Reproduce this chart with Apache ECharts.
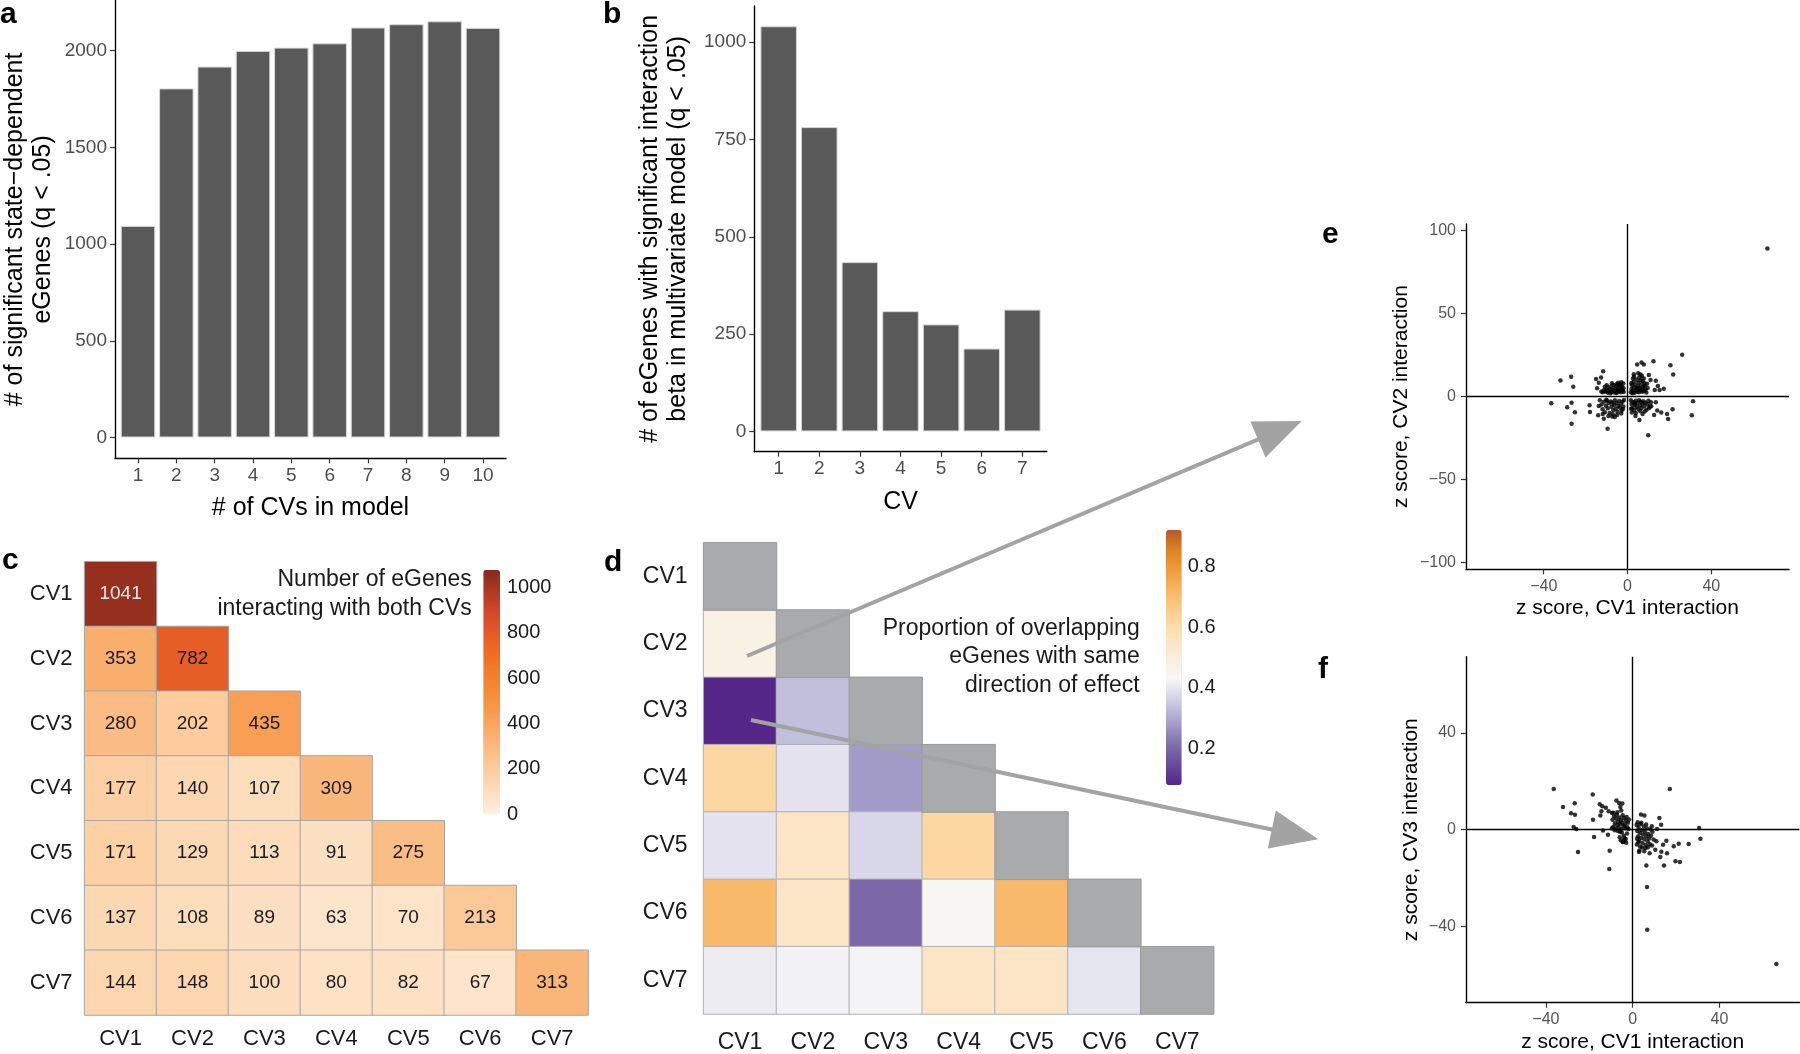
<!DOCTYPE html>
<html><head><meta charset="utf-8">
<script src="https://cdn.jsdelivr.net/npm/echarts@6/dist/echarts.min.js"></script>
<style>html,body{margin:0;padding:0;background:#fff}#chart{width:1800px;height:1054px}</style>
</head><body><div id="chart"></div>
<script>
// ---------------- data ----------------
const cvCountTicks = [1, 2, 3, 4, 5, 6, 7, 8, 9, 10];
const stateDepEgenes = [1094, 1805, 1918, 1999, 2016, 2038, 2120, 2137, 2152, 2118];
const countTicks = [0, 500, 1000, 1500, 2000];

const cvIndex = [1, 2, 3, 4, 5, 6, 7];
const interactionEgenes = [1041, 782, 435, 309, 275, 213, 313];
const interactionTicks = [0, 250, 500, 750, 1000];

const cvLabels = ['CV1', 'CV2', 'CV3', 'CV4', 'CV5', 'CV6', 'CV7'];
const overlapCounts = [
  [1041],
  [353, 782],
  [280, 202, 435],
  [177, 140, 107, 309],
  [171, 129, 113, 91, 275],
  [137, 108, 89, 63, 70, 213],
  [144, 148, 100, 80, 82, 67, 313]
];
const countLegendTicks = [0, 200, 400, 600, 800, 1000];

const sameDirection = [
  [],
  [0.48],
  [0.079, 0.335],
  [0.62, 0.395, 0.28],
  [0.395, 0.55, 0.375, 0.62],
  [0.71, 0.55, 0.20, 0.44, 0.71],
  [0.41, 0.42, 0.425, 0.55, 0.55, 0.40]
];
const propLegendTicks = [0.2, 0.4, 0.6, 0.8];

const zTicksX = [-40, 0, 40];
const zTicksCV2 = [-100, -50, 0, 50, 100];
const zTicksCV3 = [-40, 0, 40];

// z score CV1 interaction vs CV2 interaction
const zCV1vsCV2 = [
  [66.8,89.3],[26.1,25.3],[12.4,21.3],[4.6,19.3],[6.7,20.5],[7.8,19.3],[20.5,18.9],[21.8,13.3],[-11.6,15.3],
  [-32.0,9.8],[-26.9,12.0],[-25.9,6.0],[-15.0,10.6],[-12.6,11.6],[-13.7,8.4],[-14.5,5.0],[10.2,13.1],[11.0,10.0],
  [13.5,9.6],[14.5,6.4],[17.3,4.8],[15.3,4.0],[13.0,4.0],[3.0,13.5],[5.1,14.1],[6.2,13.3],[-36.4,-4.0],
  [-28.8,-6.4],[-26.7,-3.6],[-25.1,-9.4],[-26.7,-16.3],[-18.1,-5.2],[-17.9,-9.2],[-13.7,-5.6],[-14.0,-11.2],
  [-11.3,-13.3],[-9.5,-19.3],[-7.3,-12.0],[9.9,-23.3],[13.5,-3.4],[14.2,-8.4],[16.1,-9.6],[18.9,-10.4],
  [19.4,-13.5],[21.5,-7.6],[12.7,-11.0],[30.7,-11.2],[31.3,-2.8],[3.8,-11.6],[5.7,-14.1],[7.2,-10.4],
  [10.2,-7.0],[11.3,-5.8],
  [-12.5,3.1],[-11.8,2.6],[-11.2,4.0],[-10.6,2.9],[-10.1,3.6],[-9.7,5.2],[-9.3,2.4],[-8.8,3.3],[-8.4,4.6],
  [-8.0,6.1],[-7.7,2.8],[-7.3,3.9],[-6.9,5.4],[-6.6,7.0],[-6.2,2.5],[-5.9,3.6],[-5.6,4.8],[-5.3,6.3],
  [-5.0,7.6],[-4.7,2.9],[-4.4,4.1],[-4.1,5.5],[-3.8,3.2],[-3.5,6.8],[-3.2,2.6],[-2.9,4.4],[-2.6,5.9],
  [-2.3,3.5],[-2.0,7.9],[-1.8,2.8],[-4.5,8.3],[-6.9,3.1],[-9.9,6.8],[-7.4,8.0],[-3.0,8.6],[-5.2,2.2],
  [-1.9,5.1],[-8.1,2.1],[-10.8,5.9],[-3.9,7.4],
  [1.6,2.7],[1.9,4.6],[2.2,6.8],[2.5,3.4],[2.8,8.9],[3.1,5.5],[3.4,2.3],[3.7,7.3],[4.0,4.1],[4.3,10.2],
  [4.6,3.0],[4.9,6.1],[5.2,8.4],[5.5,2.6],[5.8,5.0],[6.1,3.8],[6.4,7.0],[6.7,4.5],[7.0,2.9],[7.3,9.3],
  [7.6,5.8],[7.9,3.4],[8.2,6.6],[8.6,4.3],[9.0,2.5],[9.3,7.8],[3.2,12.0],[2.6,10.9],[5.6,11.5],[6.9,12.4],
  [8.0,8.1],[9.6,5.2],[1.8,8.0],[4.4,5.2],[6.2,9.9],[2.4,2.1],[7.8,11.0],
  [-13.2,-2.2],[-12.4,-4.8],[-11.9,-7.6],[-11.3,-3.1],[-10.8,-9.4],[-10.3,-5.5],[-9.8,-2.4],[-9.4,-7.0],
  [-8.9,-4.0],[-8.5,-9.8],[-8.0,-2.9],[-7.6,-6.1],[-7.2,-3.6],[-6.8,-8.2],[-6.4,-5.0],[-6.0,-2.2],
  [-5.6,-7.3],[-5.2,-3.9],[-4.8,-9.1],[-4.4,-5.6],[-4.0,-2.6],[-3.6,-6.7],[-3.2,-4.3],[-2.8,-8.5],
  [-2.4,-3.1],[-2.0,-5.9],[-1.7,-2.0],[-5.0,-11.0],[-3.0,-10.2],[-7.0,-10.6],[-9.1,-11.6],[-11.8,-10.4],
  [-6.1,-12.3],[-2.2,-7.4],[-10.1,-1.8],
  [1.6,-2.1],[1.9,-4.5],[2.3,-6.8],[2.7,-3.2],[3.1,-8.1],[3.5,-5.1],[3.9,-2.5],[4.3,-6.2],[4.7,-3.8],
  [5.1,-7.5],[5.5,-2.2],[5.9,-5.4],[6.3,-3.1],[6.7,-6.9],[7.1,-4.2],[7.5,-2.7],[8.0,-5.8],[8.5,-3.5],
  [9.0,-7.9],[9.5,-4.6],[10.0,-2.4],[10.6,-6.0],[2.1,-9.6],[4.0,-9.9],[1.7,-7.3],[6.1,-8.8],[3.3,-4.0],
  [8.2,-8.9],[11.2,-3.3]
];

// z score CV1 interaction vs CV3 interaction
const zCV1vsCV3 = [
  [66.2,-55.6],[6.7,-41.4],[6.6,-23.7],[-36.4,16.8],[-18.4,14.6],[17.1,16.8],[-32.1,9.4],[-26.7,10.9],
  [-28.4,6.8],[-26.6,6.2],[-27.2,1.1],[-26.0,0.3],[-15.2,10.5],[-14.0,9.7],[-14.4,7.6],[-12.4,9.1],
  [-14.9,5.9],[-18.3,4.1],[-7.5,12.1],[-6.3,11.0],[-4.8,10.8],[-5.7,9.4],[-11.1,7.6],[-9.5,6.9],
  [-17.8,-3.0],[-25.2,-9.2],[-10.6,-8.7],[-10.8,-16.3],[-11.4,-2.1],[-13.7,-0.3],[-5.5,-4.4],[-4.5,-5.0],
  [-3.8,-3.4],[6.3,-14.8],[14.4,-14.8],[3.8,6.3],[5.4,5.9],[12.3,4.8],[13.1,2.1],[11.2,0.3],[30.6,0.7],
  [31.2,-3.7],[25.8,-5.9],[21.2,-5.8],[18.9,-6.9],[15.5,-4.6],[14.0,-6.2],[13.2,-9.1],[15.8,-9.7],
  [12.7,-11.3],[19.7,-13.1],[21.7,-13.4],[2.9,-9.2],[7.8,-9.7],[10.4,-8.3],[8.9,-6.5],[10.9,-4.8],
  [-9.3,4.1],[-8.9,1.2],[-8.6,5.6],[-8.2,2.7],[-7.9,0.4],[-7.6,4.5],[-7.3,6.2],[-7.0,1.8],[-6.7,3.3],
  [-6.4,0.8],[-6.1,5.1],[-5.8,2.4],[-5.5,4.0],[-5.2,0.2],[-4.9,3.0],[-4.6,6.0],[-4.3,1.5],[-4.0,4.7],
  [-3.7,2.1],[-3.4,0.6],[-3.1,3.6],[-2.8,5.3],[-2.5,1.0],[-2.2,2.9],[-1.9,0.3],[-5.0,-1.2],[-4.1,-2.5],
  [-3.2,-3.8],[-5.9,-0.8],[-2.6,-1.6],[-4.6,-5.1],[-3.9,-4.4],[-6.8,-0.5],[-8.3,-0.2],[-9.6,0.6],
  [-3.0,-5.4],[-7.1,7.2],[-5.3,7.9],[-9.0,7.0],[-6.0,-3.1],[-1.7,4.2],
  [1.8,1.9],[2.1,-0.5],[2.4,-2.8],[2.7,0.9],[3.0,-4.6],[3.3,-1.4],[3.6,2.4],[3.9,-3.3],[4.2,-0.2],
  [4.5,-5.5],[4.8,-2.0],[5.1,1.3],[5.4,-4.0],[5.7,-1.0],[6.0,-6.3],[6.3,-2.7],[6.6,0.5],[6.9,-4.9],
  [7.2,-1.8],[7.5,-3.6],[1.9,-6.1],[2.6,-5.2],[3.4,-7.0],[4.4,-7.4],[5.9,-7.6],[7.9,-6.0],[8.4,-2.5],
  [9.1,-0.9],[9.6,-4.1],[8.8,1.4],[4.0,2.9],[2.3,3.1],[6.2,2.2],[3.1,-8.6],[5.3,-8.9],[7.0,-7.3],
  [2.0,-3.7],[8.2,0.2]
];

// ---------------- chart ----------------
const FONT = "'Liberation Sans', Arial, Helvetica, sans-serif";
const countPalette = ['#fdf0e2', '#fcd0a3', '#f9ad6b', '#f68b38', '#ef6b22', '#d4462a', '#862b1c'];
const propPalette = ['#542788', '#6a4c9c', '#8073ac', '#a9a2cd', '#d0cfe6', '#f7f7f7', '#faeedb',
                     '#fde2bd', '#fdd296', '#f8ba6a', '#efa03f', '#e08522', '#b35a2a'];

const plainNum = v => String(v).replace('-', '\u2212');
const axisLineStyle = { lineStyle: { color: '#000', width: 1.4 } };
const tickStyle = { length: 5, lineStyle: { color: '#333', width: 1.2 } };

function valueAxis(gridIndex, min, max, ticks, extra) {
  return Object.assign({
    type: 'value', gridIndex, min, max,
    axisLine: Object.assign({ show: true, onZero: false }, axisLineStyle),
    axisTick: Object.assign({ show: true, customValues: ticks }, tickStyle),
    axisLabel: { customValues: ticks, color: '#4d4d4d', fontSize: 19, fontFamily: FONT, formatter: plainNum },
    splitLine: { show: false },
    nameLocation: 'middle',
    nameTextStyle: { color: '#000', fontSize: 25, lineHeight: 28, fontFamily: FONT }
  }, extra || {});
}

function catAxis(gridIndex, extra) {
  return Object.assign({
    type: 'category', gridIndex, data: cvLabels,
    axisLine: { show: false }, axisTick: { show: false }, splitLine: { show: false },
    axisLabel: { color: '#1a1a1a', fontSize: 22, fontFamily: FONT }
  }, extra);
}

const zLabel = (ticks, margin) => ({ customValues: ticks, color: '#555', fontSize: 16, margin, fontFamily: FONT, formatter: plainNum });

const countData = [];
overlapCounts.forEach((row, i) => row.forEach((v, j) => {
  countData.push({ value: [j, i, v], label: { color: v > 900 ? '#e8e8e8' : '#1a1a1a' } });
}));
const propData = [];
sameDirection.forEach((row, i) => row.forEach((v, j) => propData.push([j, i, v])));
const diagData = cvLabels.map((_, i) => [i, i, 1]);

function arrow(sx, sy, tx, ty) {
  const dx = tx - sx, dy = ty - sy, len = Math.hypot(dx, dy);
  const ux = dx / len, uy = dy / len, L = 47.5, W = 19.5;
  const mx = tx - ux * L, my = ty - uy * L, nx = -uy, ny = ux;
  return [
    { type: 'line', z: 100, shape: { x1: sx, y1: sy, x2: mx + ux * 6, y2: my + uy * 6 },
      style: { stroke: '#a3a3a3', lineWidth: 4 } },
    { type: 'polygon', z: 100, shape: { points: [[tx, ty], [mx + nx * W, my + ny * W], [mx - nx * W, my - ny * W]] },
      style: { fill: '#a3a3a3' } }
  ];
}

const zeroLines = {
  silent: true, symbol: ['none', 'none'], label: { show: false },
  lineStyle: { color: '#000', width: 1.4, type: 'solid' },
  emphasis: { disabled: true },
  data: [{ xAxis: 0 }, { yAxis: 0 }]
};

const letter = (t, left, top) => ({ text: t, left, top, padding: 0,
  textStyle: { fontSize: 30, fontWeight: 'bold', color: '#000', fontFamily: FONT } });

const option = {
  animation: false,
  textStyle: { fontFamily: FONT },
  title: [
    letter('a', 0, 0), letter('b', 603, 0), letter('c', 2, 546), letter('d', 604, 548),
    letter('e', 1322, 220), letter('f', 1318, 655),
    { text: 'Number of eGenes\ninteracting with both CVs', left: 471.8, top: 565, padding: 0, textAlign: 'right',
      textStyle: { fontSize: 23, lineHeight: 29, fontWeight: 'normal', color: '#1a1a1a', fontFamily: FONT } },
    { text: 'Proportion of overlapping\neGenes with same\ndirection of effect', left: 1139.7, top: 614, padding: 0, textAlign: 'right',
      textStyle: { fontSize: 23, lineHeight: 28.5, fontWeight: 'normal', color: '#1a1a1a', fontFamily: FONT } }
  ],
  grid: [
    { left: 115, top: 0.5, width: 391, height: 457.8 },
    { left: 754.3, top: 6, width: 292.4, height: 445.7 },
    { left: 84.6, top: 561.7, width: 503.5, height: 453.3 },
    { left: 483.3, top: 570, width: 16.7, height: 244.3 },
    { left: 703.6, top: 542.7, width: 510.1, height: 471.3 },
    { left: 1166, top: 530, width: 15.7, height: 255 },
    { left: 1466, top: 224, width: 323, height: 345.3 },
    { left: 1466, top: 656.7, width: 333.4, height: 346 }
  ],
  xAxis: [
    valueAxis(0, 0.4, 10.6, cvCountTicks, { name: '# of CVs in model', nameGap: 36 }),
    valueAxis(1, 0.4, 7.6, cvIndex, { name: 'CV', nameGap: 36 }),
    catAxis(2, { position: 'bottom', axisLabel: { color: '#1a1a1a', fontSize: 22, margin: 13, fontFamily: FONT } }),
    { type: 'value', gridIndex: 3, show: false, min: 0, max: 1 },
    catAxis(4, { position: 'bottom', axisLabel: { color: '#1a1a1a', fontSize: 23, margin: 17, fontFamily: FONT } }),
    { type: 'value', gridIndex: 5, show: false, min: 0, max: 1 },
    valueAxis(6, -77.1, 77.1, zTicksX, { name: 'z score, CV1 interaction', nameGap: 28,
      axisLabel: zLabel(zTicksX, 9), nameTextStyle: { color: '#000', fontSize: 21, fontFamily: FONT } }),
    valueAxis(7, -76.8, 76.8, zTicksX, { name: 'z score, CV1 interaction', nameGap: 29,
      axisLabel: zLabel(zTicksX, 9), nameTextStyle: { color: '#000', fontSize: 21, fontFamily: FONT } })
  ],
  yAxis: [
    valueAxis(0, -107.6, 2259.6, countTicks, { name: '# of significant state\u2212dependent\neGenes (q < .05)', nameGap: 58 }),
    valueAxis(1, -52.05, 1093.05, interactionTicks, { name: '# of eGenes with significant interaction\nbeta in multivariate model (q < .05)', nameGap: 62 }),
    catAxis(2, { inverse: true, axisLabel: { color: '#1a1a1a', fontSize: 22, margin: 12, fontFamily: FONT } }),
    { type: 'value', gridIndex: 3, position: 'right', min: 0, max: 1076,
      axisLine: { show: false }, axisTick: { show: false }, splitLine: { show: false },
      axisLabel: { customValues: countLegendTicks, color: '#1a1a1a', fontSize: 20, margin: 7, fontFamily: FONT, formatter: plainNum } },
    catAxis(4, { inverse: true, axisLabel: { color: '#1a1a1a', fontSize: 23, margin: 16, fontFamily: FONT } }),
    { type: 'value', gridIndex: 5, position: 'right', min: 0.079, max: 0.921,
      axisLine: { show: false }, axisTick: { show: false }, splitLine: { show: false },
      axisLabel: { customValues: propLegendTicks, color: '#1a1a1a', fontSize: 20, margin: 6, fontFamily: FONT,
        formatter: v => v.toFixed(1) } },
    valueAxis(6, -104, 104, zTicksCV2, { name: 'z score, CV2 interaction', nameGap: 54,
      axisLabel: zLabel(zTicksCV2, 10), nameTextStyle: { color: '#000', fontSize: 21, fontFamily: FONT } }),
    valueAxis(7, -71.6, 71.6, zTicksCV3, { name: 'z score, CV3 interaction', nameGap: 44,
      axisLabel: zLabel(zTicksCV3, 10), nameTextStyle: { color: '#000', fontSize: 21, fontFamily: FONT } })
  ],
  visualMap: [
    { type: 'continuous', seriesIndex: [2], min: 0, max: 1076, calculable: false, show: true, hoverLink: false,
      orient: 'vertical', left: 483.3, top: 570, itemWidth: 16.7, itemHeight: 244.3, padding: 0, text: null,
      showLabel: false, inRange: { color: countPalette } },
    { type: 'continuous', seriesIndex: [4], min: 0.079, max: 0.921, calculable: false, show: true, hoverLink: false,
      orient: 'vertical', left: 1166, top: 530, itemWidth: 15.7, itemHeight: 255, padding: 0, text: null,
      showLabel: false, inRange: { color: propPalette } }
  ],
  graphic: { elements: [].concat(arrow(747, 656, 1301.7, 421), arrow(751, 720, 1318.3, 839.3)) },
  series: [
    { type: 'bar', xAxisIndex: 0, yAxisIndex: 0, barWidth: 391 / 10.2 * 0.9,
      itemStyle: { color: '#595959', borderColor: '#d6d6d6', borderWidth: 1 },
      emphasis: { disabled: true },
      data: cvCountTicks.map((c, i) => [c, stateDepEgenes[i]]) },
    { type: 'bar', xAxisIndex: 1, yAxisIndex: 1, barWidth: 292.4 / 7.2 * 0.9,
      itemStyle: { color: '#595959', borderColor: '#d6d6d6', borderWidth: 1 },
      emphasis: { disabled: true },
      data: cvIndex.map((c, i) => [c, interactionEgenes[i]]) },
    { type: 'heatmap', xAxisIndex: 2, yAxisIndex: 2, data: countData,
      itemStyle: { borderColor: '#a6a6a6', borderWidth: 1 },
      label: { show: true, fontSize: 19, fontFamily: FONT, formatter: p => p.value[2] },
      emphasis: { disabled: true } },
    { type: 'scatter', xAxisIndex: 3, yAxisIndex: 3, data: [] },
    { type: 'heatmap', xAxisIndex: 4, yAxisIndex: 4, data: propData,
      itemStyle: { borderColor: '#b0b0b0', borderWidth: 1 }, emphasis: { disabled: true } },
    { type: 'heatmap', xAxisIndex: 4, yAxisIndex: 4, data: diagData,
      itemStyle: { color: '#a9aaac', borderColor: '#9a9a9a', borderWidth: 1 }, emphasis: { disabled: true } },
    { type: 'scatter', xAxisIndex: 5, yAxisIndex: 5, data: [] },
    { type: 'scatter', xAxisIndex: 6, yAxisIndex: 6, data: zCV1vsCV2, symbolSize: 4.5,
      itemStyle: { color: '#000' }, markLine: zeroLines, emphasis: { disabled: true } },
    { type: 'scatter', xAxisIndex: 7, yAxisIndex: 7, data: zCV1vsCV3, symbolSize: 4.5,
      itemStyle: { color: '#000' }, markLine: zeroLines, emphasis: { disabled: true } }
  ]
};

const chart = echarts.init(document.getElementById('chart'), null, { renderer: 'canvas' });
chart.setOption(option);
</script>
</body></html>
